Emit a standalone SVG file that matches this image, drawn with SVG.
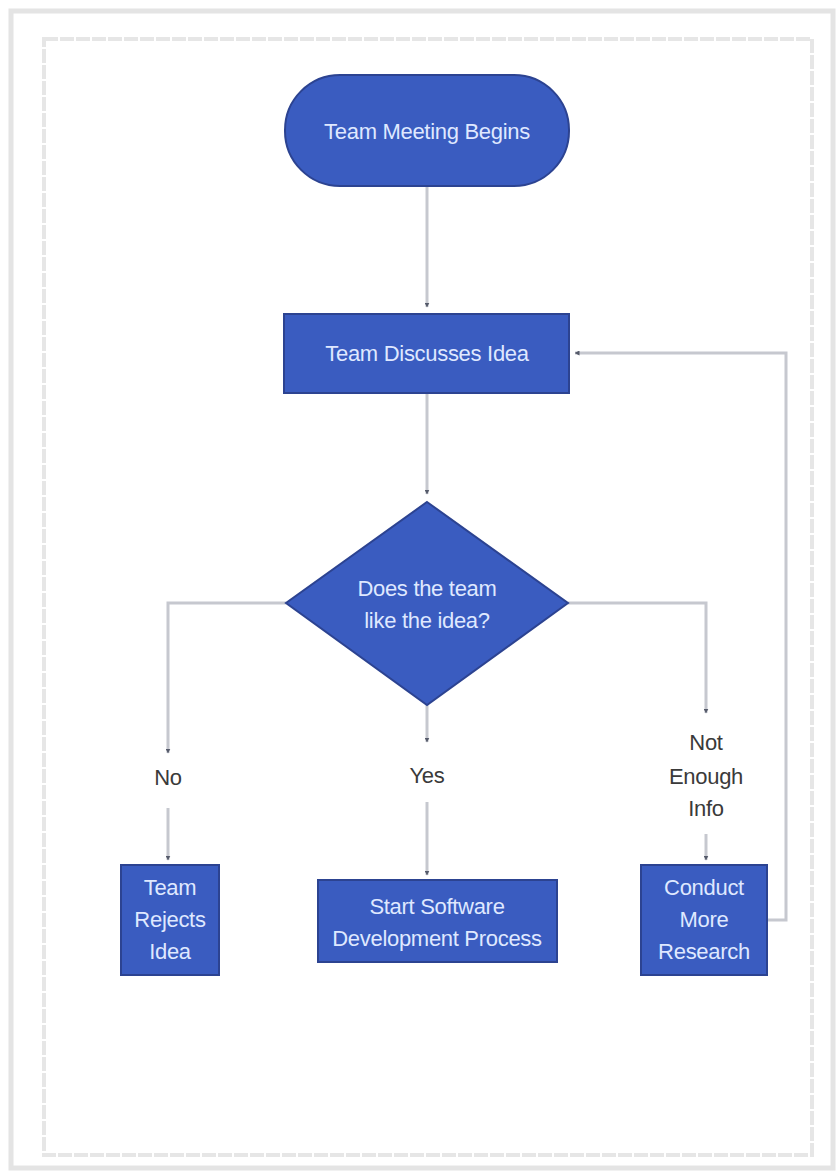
<svg xmlns="http://www.w3.org/2000/svg" width="837" height="1175" viewBox="0 0 837 1175">
<defs>
<style>
.node{fill:#3a5cc0;stroke:#2c4391;stroke-width:2}
.nt{font-family:"Liberation Sans",Arial,sans-serif;font-size:22px;fill:#dfe8ff;text-anchor:middle;letter-spacing:-0.3px}
.lbl{font-family:"Liberation Sans",Arial,sans-serif;font-size:22px;fill:#3a3a3a;text-anchor:middle;letter-spacing:-0.3px}
.edge{fill:none;stroke:#c6c8cf;stroke-width:3}
</style>
<marker id="arr" viewBox="0 0 10 10" refX="9" refY="5" markerWidth="5" markerHeight="5" orient="auto" markerUnits="userSpaceOnUse">
<path d="M0,0 L10,5 L0,10 z" fill="#555a6a"/>
</marker>
</defs>
<rect x="0" y="0" width="837" height="1175" fill="#ffffff"/>
<rect x="11" y="11" width="822" height="1157" fill="#ffffff" stroke="#e4e4e4" stroke-width="5"/>
<rect x="44" y="39" width="768" height="1116" fill="none" stroke="#e6e6e6" stroke-width="4" stroke-dasharray="14 2"/>

<g id="connectors">
<path class="edge" d="M427,186 V307" marker-end="url(#arr)"/>
<path class="edge" d="M427,393 V494" marker-end="url(#arr)"/>
<path class="edge" d="M286,603 H168 V753" marker-end="url(#arr)"/>
<path class="edge" d="M168,808 V860" marker-end="url(#arr)"/>
<path class="edge" d="M427,705 V742" marker-end="url(#arr)"/>
<path class="edge" d="M427,802 V875" marker-end="url(#arr)"/>
<path class="edge" d="M568,603 H706 V713" marker-end="url(#arr)"/>
<path class="edge" d="M706,834 V860" marker-end="url(#arr)"/>
<path class="edge" d="M767,920 H786 V353 H575" marker-end="url(#arr)"/>
</g>

<g id="start">
<rect class="node" x="285" y="75" width="284" height="111" rx="55" ry="55"/>
<text class="nt" x="427" y="139">Team Meeting Begins</text>
</g>
<g id="discuss">
<rect class="node" x="284" y="314" width="285" height="79"/>
<text class="nt" x="427" y="361">Team Discusses Idea</text>
</g>
<g id="decision">
<polygon class="node" points="427,502 568,603 427,705 286,603"/>
<text class="nt" x="427" y="596">Does the team</text>
<text class="nt" x="427" y="628">like the idea?</text>
</g>
<g id="label-no"><text class="lbl" x="168" y="785">No</text></g>
<g id="label-yes"><text class="lbl" x="427" y="783">Yes</text></g>
<g id="label-notenough">
<text class="lbl" x="706" y="750">Not</text>
<text class="lbl" x="706" y="784">Enough</text>
<text class="lbl" x="706" y="816">Info</text>
</g>
<g id="reject">
<rect class="node" x="121" y="865" width="98" height="110"/>
<text class="nt" x="170" y="895">Team</text>
<text class="nt" x="170" y="927">Rejects</text>
<text class="nt" x="170" y="959">Idea</text>
</g>
<g id="start-dev">
<rect class="node" x="318" y="880" width="239" height="82"/>
<text class="nt" x="437" y="914">Start Software</text>
<text class="nt" x="437" y="946">Development Process</text>
</g>
<g id="research">
<rect class="node" x="641" y="865" width="126" height="110"/>
<text class="nt" x="704" y="895">Conduct</text>
<text class="nt" x="704" y="927">More</text>
<text class="nt" x="704" y="959">Research</text>
</g>
</svg>
